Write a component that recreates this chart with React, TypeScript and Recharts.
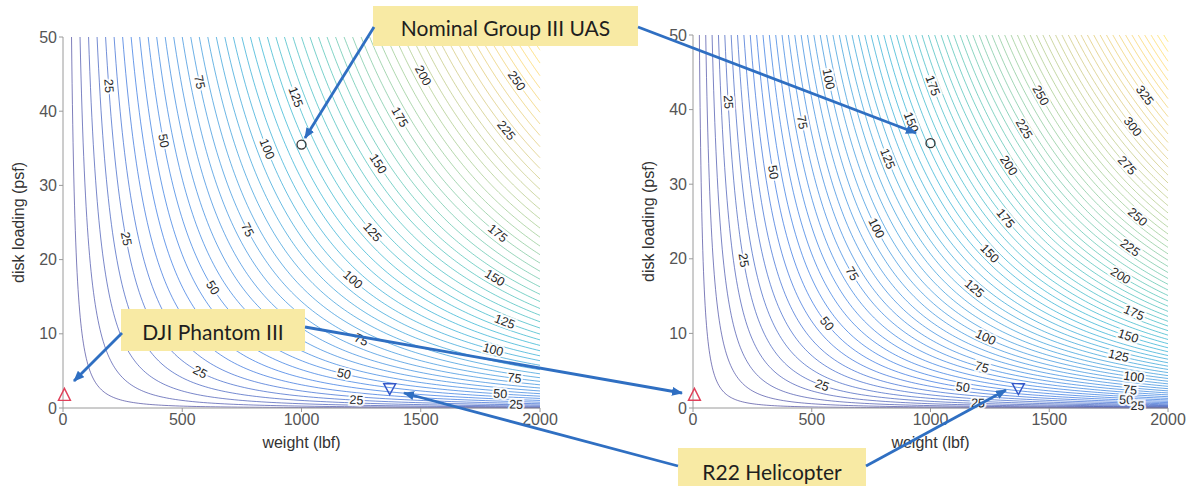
import React from 'react';
import { ComposedChart, Line, Scatter, XAxis, YAxis, Label } from 'recharts';

// axes: weight (lbf) and disk loading (psf)
const WEIGHT_TICKS = [0, 500, 1000, 1500, 2000];
const LOADING_TICKS = [0, 10, 20, 30, 40, 50];

// hover power contour levels (hp), a line every 5 hp
const LEFT_LEVELS = [
  5, 10, 15, 20, 25, 30, 35, 40, 45, 50, 55, 60, 65, 70, 75, 80, 85, 90, 95, 100,
  105, 110, 115, 120, 125, 130, 135, 140, 145, 150, 155, 160, 165, 170, 175, 180,
  185, 190, 195, 200, 205, 210, 215, 220, 225, 230, 235, 240, 245, 250, 255, 260,
  265, 270, 275, 280,
];
const RIGHT_LEVELS = [
  5, 10, 15, 20, 25, 30, 35, 40, 45, 50, 55, 60, 65, 70, 75, 80, 85, 90, 95, 100,
  105, 110, 115, 120, 125, 130, 135, 140, 145, 150, 155, 160, 165, 170, 175, 180,
  185, 190, 195, 200, 205, 210, 215, 220, 225, 230, 235, 240, 245, 250, 255, 260,
  265, 270, 275, 280, 285, 290, 295, 300, 305, 310, 315, 320, 325, 330, 335, 340,
  345, 350, 355, 360, 365, 370,
];

const LEFT_K = 0.0198;
const RIGHT_K = 0.0264;

// contour labels: [level, weight, disk loading]
const LEFT_LABELS: [number, number, number][] = [
  [25, 166, 43.4], [75, 587, 43.9], [125, 979, 41.9], [200, 1521, 44.8], [250, 1913, 44.1],
  [50, 422, 36], [100, 858, 34.9], [175, 1423, 39.2], [225, 1852, 37.4], [150, 1333, 32.9],
  [25, 252, 22.8], [75, 768, 24], [125, 1310, 23.7], [175, 1822, 23.3],
  [100, 1215, 17.3], [150, 1810, 17.8], [50, 636, 16.2], [125, 1852, 11.8],
  [75, 1250, 9.3], [100, 1803, 8], [25, 575, 4.9], [50, 1178, 4.7], [75, 1893, 4],
  [25, 1230, 1.1], [50, 1833, 2.2], [25, 1900, 0.8],
];
const RIGHT_LABELS: [number, number, number][] = [
  [25, 128, 41], [100, 560, 44.1], [175, 992, 43.2], [250, 1456, 41.9], [325, 1888, 41.9],
  [75, 432, 38.3], [150, 912, 38.3], [225, 1392, 37.4], [300, 1848, 37.7],
  [50, 320, 31.6], [125, 800, 33.4], [200, 1320, 32.5], [275, 1840, 32.5],
  [100, 760, 24.1], [175, 1320, 25.4], [250, 1872, 25.9],
  [25, 200, 19.8], [75, 656, 18], [150, 1248, 20.7], [225, 1840, 21.1], [200, 1800, 17.3],
  [50, 560, 11.3], [125, 1184, 15.8], [175, 1856, 12.4], [100, 1232, 9.3], [150, 1832, 9.6],
  [125, 1792, 7.1], [75, 1216, 5.8], [100, 1856, 4], [25, 544, 3.1], [50, 1136, 2.67],
  [75, 1840, 2.7], [50, 1824, 1.3], [25, 1200, 1.1], [25, 1872, 0.9],
];

// vehicles
const NOMINAL_UAS = [{ w: 1000, dl: 35.5 }];
const PHANTOM_III = [{ w: 6, dl: 1.7 }];
const R22 = [{ w: 1370, dl: 2.6 }];

const PARULA = ['#352a87', '#0f5cdd', '#1481d6', '#06a4ca', '#2eb7a4', '#87bf77', '#d1bb59', '#fec832', '#f9fb0e'];
const FONT = '"Liberation Sans", Arial, sans-serif';
const CALLOUT_FONT = 'Lato, "Open Sans", sans-serif';
const W_MAX = 2000;
const DL_MAX = 50;

const hex = (h: string) => [1, 3, 5].map((i) => parseInt(h.slice(i, i + 2), 16));
const parula = (t: number) => {
  const x = Math.min(Math.max(t, 0), 1) * (PARULA.length - 1);
  const i = Math.min(Math.floor(x), PARULA.length - 2);
  const f = x - i;
  const a = hex(PARULA[i]);
  const b = hex(PARULA[i + 1]);
  const c = a.map((v, j) => Math.round(v + (b[j] - v) * f));
  return `rgb(${c[0]},${c[1]},${c[2]})`;
};

const clampW = (w: number) => Math.min(Math.max(w, 0), W_MAX);
const clampDL = (dl: number) => Math.min(Math.max(dl, 0), DL_MAX);

// iso-power curve: k * W * sqrt(DL) = level, traced across the plot window
const contour = (level: number, k: number) => {
  const lo = Math.pow(level / (k * W_MAX), 2);
  const pts: { w: number; dl: number }[] = [];
  if (lo >= DL_MAX) return pts;
  const n = 120;
  for (let i = 0; i <= n; i++) {
    const dl = lo * Math.pow(DL_MAX / lo, i / n);
    pts.push({ w: clampW(level / (k * Math.sqrt(dl))), dl: clampDL(dl) });
  }
  return pts;
};

// snap a read label position onto its contour (keep the coordinate the line runs along)
const placeLabels = (labels: [number, number, number][], k: number, ratio: number) =>
  labels.map(([level, w0, dl0]) => {
    const steep = ((2 * dl0) / w0) * ratio > 1;
    const dl = steep ? dl0 : Math.pow(level / (k * w0), 2);
    const w = steep ? level / (k * Math.sqrt(dl0)) : w0;
    return { level, w: clampW(w), dl: clampDL(dl) };
  });

const labelShape = (ratio: number) => (props: any) => {
  const { cx, cy, payload } = props;
  if (cx == null || cy == null) return <g />;
  const ang = (Math.atan(((2 * payload.dl) / payload.w) * ratio) * 180) / Math.PI;
  return (
    <text
      x={cx}
      y={cy}
      transform={`rotate(${ang.toFixed(1)} ${cx} ${cy})`}
      textAnchor="middle"
      dominantBaseline="central"
      fontSize={12.5}
      fontFamily={FONT}
      fill="#262626"
      stroke="#fff"
      strokeWidth={4}
      strokeOpacity={0.85}
      paintOrder="stroke"
    >
      {payload.level}
    </text>
  );
};

const circleShape = (props: any) => (
  <circle cx={props.cx} cy={props.cy} r={4.5} fill="none" stroke="#333" strokeWidth={1.3} />
);
const triUpShape = (props: any) => {
  const { cx, cy } = props;
  return <path d={`M${cx},${cy - 7} L${cx + 6},${cy + 5} L${cx - 6},${cy + 5} Z`} fill="none" stroke="#e0405a" strokeWidth={1.4} />;
};
const triDownShape = (props: any) => {
  const { cx, cy } = props;
  return <path d={`M${cx},${cy + 6} L${cx + 6},${cy - 5} L${cx - 6},${cy - 5} Z`} fill="none" stroke="#3457c8" strokeWidth={1.4} />;
};

const YTitle = (props: any) => {
  const vb = props.viewBox || { x: 0, y: 0, width: 0, height: 0 };
  const cx = vb.x + 18;
  const cy = vb.y + vb.height / 2;
  return (
    <text x={cx} y={cy} transform={`rotate(-90 ${cx} ${cy})`} textAnchor="middle" dominantBaseline="central" fontSize={16} fontFamily={FONT} fill="#333">
      disk loading (psf)
    </text>
  );
};

type PanelProps = {
  left: number;
  top: number;
  rightMargin: number;
  levels: number[];
  k: number;
  labels: [number, number, number][];
};

const CHART_W = 560;
const CHART_H = 486;
const Y_AXIS_W = 63;
const X_AXIS_H = 40;
const BOTTOM = 38;

const PowerPanel = ({ left, top, rightMargin, levels, k, labels }: PanelProps) => {
  const plotW = CHART_W - Y_AXIS_W - rightMargin;
  const plotH = CHART_H - top - BOTTOM - X_AXIS_H;
  const ratio = (plotH / DL_MAX) / (plotW / W_MAX);
  const zMax = k * W_MAX * Math.sqrt(DL_MAX);
  const placed = placeLabels(labels, k, ratio);

  return (
    <div style={{ position: 'absolute', left, top: 0 }}>
      <ComposedChart width={CHART_W} height={CHART_H} margin={{ top, right: rightMargin, bottom: BOTTOM, left: 0 }}>
        <XAxis
          type="number"
          dataKey="w"
          domain={[0, W_MAX]}
          ticks={WEIGHT_TICKS}
          height={X_AXIS_H}
          stroke="#9a9a9a"
          tickSize={4}
          tick={{ fill: '#555', fontSize: 16, fontFamily: FONT }}
          label={{ value: 'weight (lbf)', position: 'insideBottom', offset: 0, fill: '#333', fontSize: 16, fontFamily: FONT }}
        />
        <YAxis
          type="number"
          dataKey="dl"
          domain={[0, DL_MAX]}
          ticks={LOADING_TICKS}
          width={Y_AXIS_W}
          stroke="#9a9a9a"
          tickSize={4}
          tick={{ fill: '#555', fontSize: 16, fontFamily: FONT }}
        >
          <Label content={<YTitle />} />
        </YAxis>
        {levels.map((lv) => (
          <Line
            key={lv}
            data={contour(lv, k)}
            dataKey="dl"
            type="linear"
            stroke={parula(0.92 * lv / zMax)}
            strokeWidth={1}
            strokeOpacity={0.62}
            dot={false}
            activeDot={false}
            isAnimationActive={false}
          />
        ))}
        <Scatter data={placed} dataKey="dl" shape={labelShape(ratio)} isAnimationActive={false} />
        <Scatter data={NOMINAL_UAS} dataKey="dl" shape={circleShape} isAnimationActive={false} />
        <Scatter data={PHANTOM_III} dataKey="dl" shape={triUpShape} isAnimationActive={false} />
        <Scatter data={R22} dataKey="dl" shape={triDownShape} isAnimationActive={false} />
      </ComposedChart>
    </div>
  );
};

const ARROW = '#2f6fc2';

const Callout = ({ x, y, w, h, text }: { x: number; y: number; w: number; h: number; text: string }) => (
  <g>
    <rect x={x} y={y} width={w} height={h} fill="#f8eaa4" />
    <text x={x + w / 2} y={y + h / 2 + 1} textAnchor="middle" dominantBaseline="central" fontSize={21} fontFamily={CALLOUT_FONT} fill="#1e1e1e">
      {text}
    </text>
  </g>
);

const Arrow = ({ x1, y1, x2, y2 }: { x1: number; y1: number; x2: number; y2: number }) => (
  <line x1={x1} y1={y1} x2={x2} y2={y2} stroke={ARROW} strokeWidth={2.8} markerEnd="url(#ah)" />
);

export default function App() {
  return (
    <div style={{ position: 'absolute', left: 0, top: 0, width: 1196, height: 486, background: '#fff', overflow: 'hidden' }}>
      <PowerPanel left={0} top={37} rightMargin={20} levels={LEFT_LEVELS} k={LEFT_K} labels={LEFT_LABELS} />
      <PowerPanel left={630} top={35} rightMargin={22} levels={RIGHT_LEVELS} k={RIGHT_K} labels={RIGHT_LABELS} />
      <svg width={1196} height={486} style={{ position: 'absolute', left: 0, top: 0, pointerEvents: 'none' }}>
        <defs>
          <marker id="ah" markerWidth={11} markerHeight={9} refX={10} refY={4.5} orient="auto" markerUnits="userSpaceOnUse">
            <path d="M0,0 L11,4.5 L0,9 Z" fill={ARROW} />
          </marker>
        </defs>
        <Callout x={373} y={6} w={265} h={40} text="Nominal Group III UAS" />
        <Arrow x1={374} y1={27} x2={305} y2={138} />
        <Arrow x1={638} y1={27} x2={916} y2={133} />
        <Callout x={121} y={309} w={184} h={42} text="DJI Phantom III" />
        <Arrow x1={122} y1={333} x2={74} y2={381} />
        <Arrow x1={305} y1={327} x2={682} y2={393} />
        <Callout x={678} y={448} w={188} h={44} text="R22 Helicopter" />
        <Arrow x1={678} y1={466} x2={404} y2={393} />
        <Arrow x1={866} y1={466} x2={1006} y2={390} />
      </svg>
    </div>
  );
}
